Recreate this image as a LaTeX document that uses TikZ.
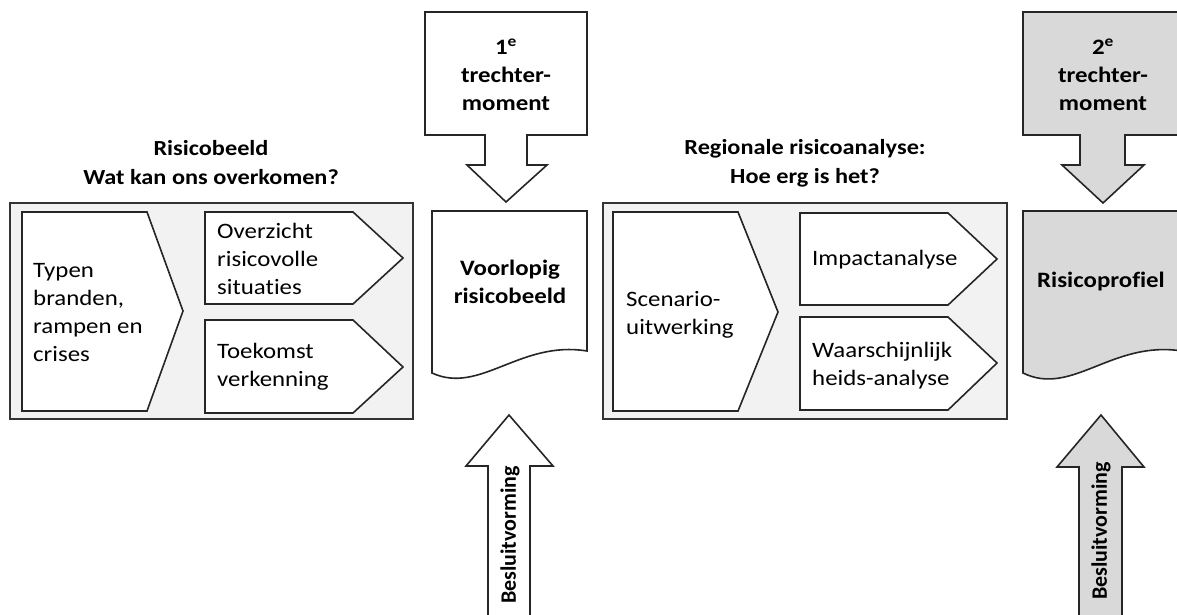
\documentclass[tikz,border=0pt]{standalone}
\usepackage{fontspec}
\setmainfont{Carlito}[FakeStretch=1.13,Ligatures=NoCommon]
\newfontfamily\rotfont{Carlito}[Ligatures=NoCommon]
\begin{document}
\begin{tikzpicture}[x=1pt,y=-1pt,
  shp/.style={draw=black!85,line width=1.6pt,line join=miter},
  whiteshp/.style={shp,fill=white},
  grayshp/.style={shp,fill=black!15},
  panel/.style={draw=black!80,line width=1.8pt,fill=black!5},
  txt/.style={font=\fontsize{22}{28}\selectfont,align=left,inner sep=0pt,anchor=west},
  btxt/.style={font=\bfseries\fontsize{22}{28}\selectfont,align=center,inner sep=0pt},
  rtxt/.style={font=\rotfont\bfseries\fontsize{22}{28}\selectfont,inner sep=0pt,rotate=90},
  ttl/.style={font=\bfseries\fontsize{21.5}{29}\selectfont,align=center,inner sep=0pt}]
\useasboundingbox (0,0) rectangle (1177,614);
\clip (0,0) rectangle (1177,614);
\fill[white] (0,0) rectangle (1177,614);

% titles
\node[ttl] (t1) at (211,163) {Risicobeeld\\Wat kan ons overkomen?};
\node[ttl] (t2) at (805,163) {Regionale risicoanalyse:\\Hoe erg is het?};

% left panel
\draw[panel] (10,203) rectangle (413,419);
\draw[whiteshp] (22,212) -- (147,212) -- (183,311) -- (147,411) -- (22,411) -- cycle;
\draw[whiteshp] (205,212) -- (353,212) -- (403,258) -- (353,304) -- (205,304) -- cycle;
\draw[whiteshp] (205,320) -- (353,320) -- (403,367) -- (353,413) -- (205,413) -- cycle;
\node[txt] (typen) at (33,313) {Typen\\branden,\\rampen en\\crises};
\node[txt] (overz) at (217,259) {Overzicht\\risicovolle\\situaties};
\node[txt] (toek) at (217,367) {Toekomst\\verkenning};

% middle panel
\draw[panel] (603,203) rectangle (1007,419);
\draw[whiteshp] (613,212) -- (738,212) -- (778,312) -- (738,411) -- (613,411) -- cycle;
\draw[whiteshp] (800,213) -- (948,213) -- (997,259) -- (948,305) -- (800,305) -- cycle;
\draw[whiteshp] (800,317) -- (948,317) -- (997,363) -- (948,410) -- (800,410) -- cycle;
\node[txt] (scen) at (626,315) {Scenario-\\uitwerking};
\node[txt] (impact) at (812,260) {Impactanalyse};
\node[txt] (waar) at (812,366) {Waarschijnlijk\\heids-analyse};

% 1e trechtermoment
\draw[whiteshp] (425,12) -- (587,12) -- (587,135) -- (527,135) -- (527,165) -- (547,165)
  -- (506,202) -- (467,165) -- (485,165) -- (485,135) -- (425,135) -- cycle;
\node[btxt] (tr1) at (506,75) {1\textsuperscript{e}\\trechter-\\moment};

% voorlopig risicobeeld document
\draw[whiteshp] (432,211) -- (587,211) -- (587,351)
  .. controls (520,340) and (480,395) .. (432,373) -- cycle;
\node[btxt] (voorl) at (510,282) {Voorlopig\\risicobeeld};

% besluitvorming 1
\draw[whiteshp] (488,625) -- (488,466) -- (466,466) -- (509,415) -- (553,466) -- (530,466) -- (530,625) -- cycle;
\node[rtxt] (bes1) at (510,535) {Besluitvorming};

% 2e trechtermoment
\draw[grayshp] (1023,12) -- (1184,12) -- (1184,135) -- (1125,135) -- (1125,165) -- (1144,165)
  -- (1103,203) -- (1062,165) -- (1080,165) -- (1080,135) -- (1023,135) -- cycle;
\node[btxt] (tr2) at (1103,75) {2\textsuperscript{e}\\trechter-\\moment};

% risicoprofiel document
\draw[grayshp] (1023,211) -- (1182,211) -- (1182,351)
  .. controls (1112,340) and (1072,397) .. (1023,373) -- cycle;
\node[btxt] (rp) at (1101,282) {Risicoprofiel};

% besluitvorming 2
\draw[grayshp] (1079,625) -- (1079,467) -- (1057,467) -- (1101,415) -- (1144,467) -- (1122,467) -- (1122,625) -- cycle;
\node[rtxt] (bes2) at (1101,531) {Besluitvorming};
\end{tikzpicture}
\end{document}
